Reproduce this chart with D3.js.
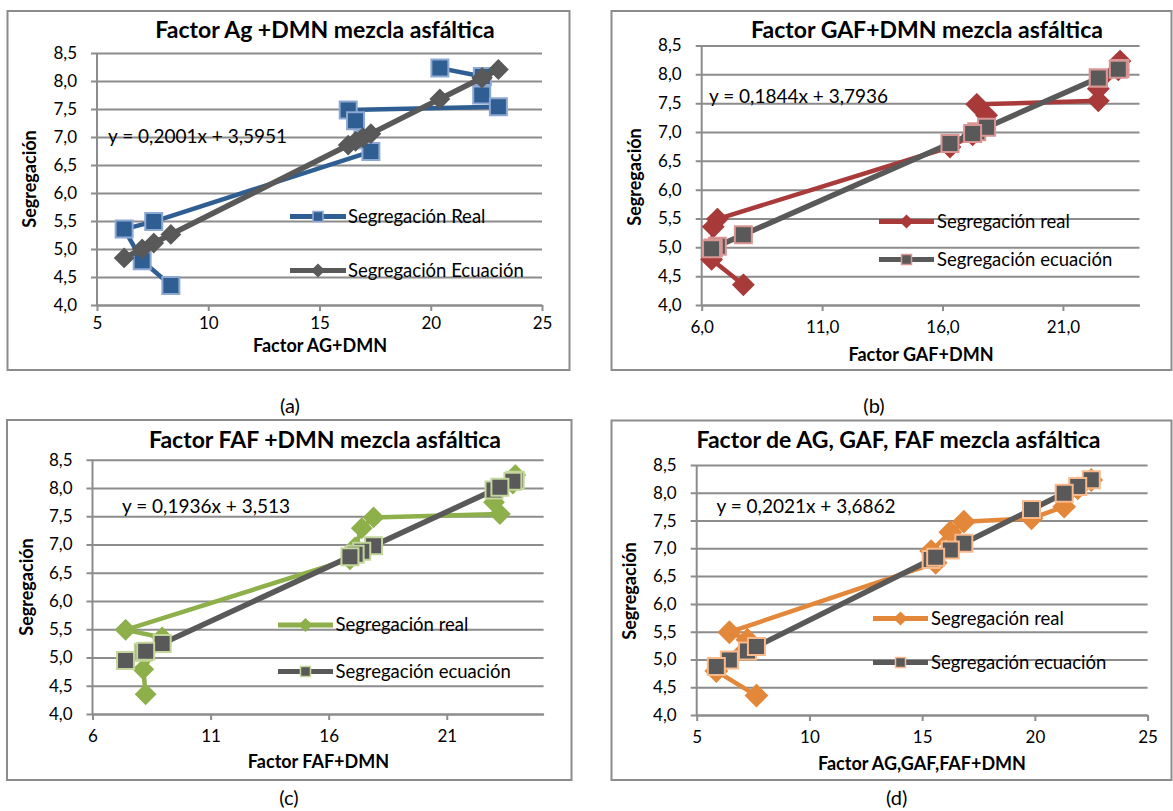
<!DOCTYPE html>
<html>
<head>
<meta charset="utf-8">
<script src="https://cdn.jsdelivr.net/npm/d3@7"></script>
<style>
  body { margin: 0; background: #ffffff; }
  svg { display: block; font-family: Lato, "Open Sans", sans-serif; }
</style>
</head>
<body>
<svg id="fig" width="1173" height="811"></svg>
<script>
// Measured segregation of the asphalt mix samples (same samples in every plot)
const segregacionReal = [8.23, 8.08, 7.75, 7.54, 7.48, 7.29, 6.95, 6.74, 5.49, 5.355, 4.79, 4.35];

// (a) Ag + DMN factor and segregation from its regression
const factorAG   = [20.41, 22.32, 22.29, 23.04, 16.29, 16.62, 16.95, 17.31, 7.55, 6.22, 7.03, 8.32];
const ecuacionAG = [7.679, 8.061, 8.055, 8.205, 6.855, 6.921, 6.987, 7.059, 5.106, 4.840, 5.002, 5.260];

// (b) GAF + DMN factor
const factorGAF   = [23.37, 23.30, 22.47, 22.47, 17.42, 17.83, 17.25, 16.31, 6.65, 6.48, 6.41, 7.73];
const ecuacionGAF = [8.103, 8.090, 7.937, 7.937, 7.006, 7.081, 6.975, 6.801, 5.020, 4.989, 4.976, 5.219];

// (c) FAF + DMN factor
const factorFAF   = [23.90, 23.80, 23.00, 23.25, 17.90, 17.40, 17.12, 16.90, 7.40, 8.95, 8.15, 8.25];
const ecuacionFAF = [8.140, 8.121, 7.966, 8.014, 6.978, 6.882, 6.827, 6.785, 4.946, 5.246, 5.091, 5.110];

// (d) combined AG, GAF, FAF + DMN factor
const factorTotal   = [22.50, 21.90, 21.30, 19.85, 16.85, 16.25, 15.40, 15.60, 6.45, 7.25, 5.87, 7.65];
const ecuacionTotal = [8.233, 8.112, 7.991, 7.698, 7.092, 6.970, 6.799, 6.839, 4.990, 5.151, 4.873, 5.232];

// Axis ticks
const yTicks      = [4.0, 4.5, 5.0, 5.5, 6.0, 6.5, 7.0, 7.5, 8.0, 8.5];
const xTicksAG    = [5, 10, 15, 20, 25];
const xTicksGAF   = [6, 11, 16, 21];
const xTicksFAF   = [6, 11, 16, 21];
const xTicksTotal = [5, 10, 15, 20, 25];

// Text
const titles  = ["Factor Ag +DMN mezcla asfáltica", "Factor GAF+DMN mezcla asfáltica",
                 "Factor FAF +DMN mezcla asfáltica", "Factor de AG, GAF, FAF mezcla asfáltica"];
const xTitles = ["Factor AG+DMN", "Factor GAF+DMN", "Factor FAF+DMN", "Factor AG,GAF,FAF+DMN"];
const ecuaciones = ["y = 0,2001x + 3,5951", "y = 0,1844x + 3,7936", "y = 0,1936x + 3,513", "y = 0,2021x + 3,6862"];
const leyendaReal = ["Segregación Real", "Segregación real", "Segregación real", "Segregación real"];
const leyendaEc   = ["Segregación Ecuación", "Segregación ecuación", "Segregación ecuación", "Segregación ecuación"];
const subLabels   = ["(a)", "(b)", "(c)", "(d)"];

const comma1 = v => d3.format(".1f")(v).replace(".", ",");
const plain  = v => String(v);

const GRAY = "#595959";

const panels = [
  { frame: [7.5, 11, 569.5, 370], plot: [97, 53, 542, 305], xDomain: [5, 25],
    x: factorAG, yEq: ecuacionAG, xTicks: xTicksAG, xFmt: plain, xPad: 6,
    titlePos: [325, 38], xTitlePos: [320, 352], yTitlePos: [30, 179],
    eqPos: [108, 143], leg: { x1: 290, x2: 346, y1: 216.5, y2: 270.5, tx: 348 },
    subPos: [290, 413],
    real: { color: "#2F5E93", shape: "square", fill: "#2F5E93", stroke: "#8DA9D3", size: 17 },
    eq:   { color: GRAY, shape: "diamond", fill: GRAY, stroke: GRAY, size: 9 } },
  { frame: [611.5, 11, 1171.5, 370], plot: [701.7, 45.5, 1139.5, 305], xDomain: [6, 24.18],
    x: factorGAF, yEq: ecuacionGAF, xTicks: xTicksGAF, xFmt: comma1, xPad: 10,
    titlePos: [927, 38], xTitlePos: [921, 361], yTitlePos: [635, 177],
    eqPos: [709, 103], leg: { x1: 879, x2: 934, y1: 221.5, y2: 259.5, tx: 937 },
    subPos: [874, 413],
    real: { color: "#A93A3A", shape: "diamond", fill: "#A93A3A", stroke: "#A93A3A", size: 10 },
    eq:   { color: GRAY, shape: "square", fill: GRAY, stroke: "#D99694", size: 17 } },
  { frame: [7, 420, 571.5, 780], plot: [92.5, 459.8, 543.6, 714], xDomain: [6, 25.1],
    x: factorFAF, yEq: ecuacionFAF, xTicks: xTicksFAF, xFmt: plain, xPad: 10,
    titlePos: [325, 448], xTitlePos: [318.5, 768], yTitlePos: [27, 587],
    eqPos: [122, 513], leg: { x1: 278, x2: 333, y1: 625, y2: 671.5, tx: 335.5 },
    subPos: [289, 805],
    real: { color: "#8DB04B", shape: "diamond", fill: "#8DB04B", stroke: "#8DB04B", size: 9.5 },
    eq:   { color: GRAY, shape: "square", fill: GRAY, stroke: "#C3D69B", size: 17 } },
  { frame: [611.5, 420.5, 1171.5, 780], plot: [696.7, 465, 1147.6, 715], xDomain: [5, 25],
    x: factorTotal, yEq: ecuacionTotal, xTicks: xTicksTotal, xFmt: plain, xPad: 10,
    titlePos: [898.5, 448], xTitlePos: [922, 770], yTitlePos: [630, 591],
    eqPos: [716.5, 513], leg: { x1: 873, x2: 928, y1: 618.5, y2: 662.5, tx: 931 },
    subPos: [896.7, 805],
    real: { color: "#E3873A", shape: "diamond", fill: "#E3873A", stroke: "#E3873A", size: 10.5 },
    eq:   { color: GRAY, shape: "square", fill: GRAY, stroke: "#F9B98A", size: 17 } }
];

const svg = d3.select("#fig");

function markerPath(shape, s) {
  if (shape === "diamond") return `M0,${-s}L${s},0L0,${s}L${-s},0Z`;
  const h = s / 2;
  return `M${-h},${-h}H${h}V${h}H${-h}Z`;
}

function drawSeries(g, xs, ys, xScale, yScale, st) {
  const pts = xs.map((v, i) => [xScale(v), yScale(ys[i])]);
  g.append("path")
    .attr("d", d3.line()(pts))
    .attr("fill", "none")
    .attr("stroke", st.color)
    .attr("stroke-width", st.color === GRAY ? 5.5 : 4.5)
    .attr("stroke-linejoin", "round")
    .attr("stroke-linecap", "round");
  g.selectAll(null).data(pts).enter().append("path")
    .attr("transform", d => `translate(${d[0]},${d[1]})`)
    .attr("d", markerPath(st.shape, st.size))
    .attr("fill", st.fill)
    .attr("stroke", st.stroke)
    .attr("stroke-width", 2);
}

panels.forEach((p, k) => {
  const g = svg.append("g");
  const [fx1, fy1, fx2, fy2] = p.frame;
  g.append("rect").attr("x", fx1).attr("y", fy1).attr("width", fx2 - fx1).attr("height", fy2 - fy1)
    .attr("fill", "#ffffff").attr("stroke", "#8C8C8C").attr("stroke-width", 2);

  const [px1, py1, px2, py2] = p.plot;
  const x = d3.scaleLinear().domain(p.xDomain).range([px1, px2]);
  const y = d3.scaleLinear().domain([4.0, 8.5]).range([py2, py1]);

  // horizontal gridlines with y-axis ticks and labels
  const yAxis = d3.axisLeft(y).tickValues(yTicks).tickFormat(comma1)
    .tickSizeInner(-(px2 - px1)).tickSizeOuter(0).tickPadding(20);
  const ya = g.append("g").attr("transform", `translate(${px1},0)`).call(yAxis);
  ya.select(".domain").remove();
  ya.selectAll(".tick line").attr("stroke", "#8C8C8C").attr("stroke-width", 2).attr("x1", -6);
  ya.selectAll(".tick text").attr("font-size", 17).attr("fill", "#000").attr("font-family", "Lato, sans-serif");
  g.append("line").attr("x1", px1).attr("x2", px1).attr("y1", py1).attr("y2", py2)
    .attr("stroke", "#8C8C8C").attr("stroke-width", 2);

  // x axis
  const xAxis = d3.axisBottom(x).tickValues(p.xTicks).tickFormat(p.xFmt)
    .tickSizeInner(6).tickSizeOuter(0).tickPadding(p.xPad);
  const xa = g.append("g").attr("transform", `translate(0,${py2})`).call(xAxis);
  xa.select(".domain").attr("stroke", "#8C8C8C").attr("stroke-width", 2);
  xa.selectAll(".tick line").attr("stroke", "#8C8C8C").attr("stroke-width", 2);
  xa.selectAll(".tick text").attr("font-size", 17).attr("fill", "#000").attr("font-family", "Lato, sans-serif");

  // series: measured first, regression on top
  drawSeries(g, p.x, segregacionReal, x, y, p.real);
  drawSeries(g, p.x, p.yEq, x, y, p.eq);

  // titles
  g.append("text").attr("x", p.titlePos[0]).attr("y", p.titlePos[1])
    .attr("text-anchor", "middle").attr("font-weight", "bold").attr("font-size", 23).text(titles[k]);
  g.append("text").attr("x", p.xTitlePos[0]).attr("y", p.xTitlePos[1])
    .attr("text-anchor", "middle").attr("font-weight", "bold").attr("font-size", 18).text(xTitles[k]);
  g.append("text").attr("transform", `translate(${p.yTitlePos[0]},${p.yTitlePos[1]}) rotate(-90)`)
    .attr("text-anchor", "middle").attr("dy", "0.35em").attr("font-weight", "bold").attr("font-size", 18)
    .text("Segregación");

  // regression equation
  g.append("text").attr("x", p.eqPos[0]).attr("y", p.eqPos[1]).attr("font-size", 19).text(ecuaciones[k]);

  // legend
  const L = p.leg;
  [[L.y1, p.real, leyendaReal[k]], [L.y2, p.eq, leyendaEc[k]]].forEach(([ly, st, label]) => {
    g.append("line").attr("x1", L.x1).attr("x2", L.x2).attr("y1", ly).attr("y2", ly)
      .attr("stroke", st.color).attr("stroke-width", 5);
    g.append("path").attr("transform", `translate(${(L.x1 + L.x2) / 2},${ly})`)
      .attr("d", markerPath(st.shape, st.shape === "square" ? 10 : 6))
      .attr("fill", st.fill).attr("stroke", st.stroke).attr("stroke-width", 1.5);
    g.append("text").attr("x", L.tx).attr("y", ly).attr("dy", "0.35em").attr("font-size", 18.5).text(label);
  });

  // panel letter
  svg.append("text").attr("x", p.subPos[0]).attr("y", p.subPos[1])
    .attr("text-anchor", "middle").attr("font-size", 20).text(subLabels[k]);
});
</script>
</body>
</html>
